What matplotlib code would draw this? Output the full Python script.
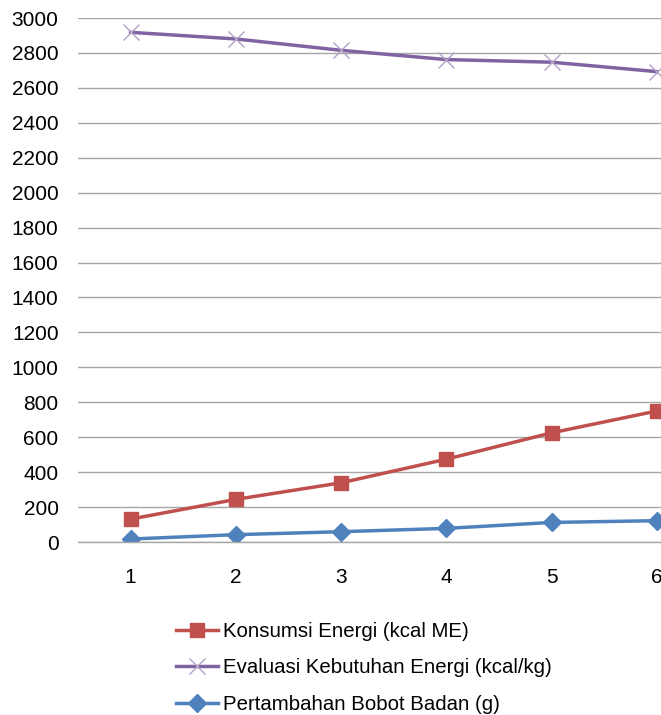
import matplotlib
matplotlib.use("Agg")
import matplotlib.pyplot as plt

categories = [1, 2, 3, 4, 5, 6]
konsumsi = [131, 244, 339, 474, 625, 750]
evaluasi = [2918, 2880, 2815, 2762, 2747, 2693]
pertambahan = [17, 42, 59, 78, 112, 122]
yticks = list(range(0, 3001, 200))

plt.rcParams['font.family'] = ['Liberation Sans', 'DejaVu Sans']

fig = plt.figure(figsize=(6.61, 7.15), dpi=100)
ax = fig.add_axes([78/661, 173/715, 1 - 78/661, (542-18)/715])

l1, = ax.plot(categories, konsumsi, color='#C0504D', lw=2.5, marker='s',
              markersize=10, markerfacecolor='#C0504D', markeredgecolor='#C0504D',
              label='Konsumsi Energi (kcal ME)')
l2, = ax.plot(categories, evaluasi, color='#8064A2', lw=2.5, marker='x',
              markersize=12, markeredgecolor='#B3A2C7', markeredgewidth=1.0,
              label='Evaluasi Kebutuhan Energi (kcal/kg)')
l3, = ax.plot(categories, pertambahan, color='#4F81BD', lw=2.5, marker='D',
              markersize=9, markerfacecolor='#4F81BD', markeredgecolor='#4F81BD',
              label='Pertambahan Bobot Badan (g)')

ax.set_xlim(0.5, 6.04)
ax.set_ylim(0, 3000)
ax.set_yticks(yticks)
ax.set_xticks(categories)
ax.set_xticklabels([str(c) for c in categories])
ax.grid(axis='y', color='#A6A6A6', lw=1.0)
ax.set_axisbelow(True)
for s in ax.spines.values():
    s.set_visible(False)
ax.spines['bottom'].set_visible(True)
ax.spines['bottom'].set_color('#A6A6A6')
ax.spines['bottom'].set_linewidth(1.0)
ax.tick_params(axis='both', length=0, labelsize=15, colors='black')
ax.tick_params(axis='y', pad=14)
ax.tick_params(axis='x', pad=19)

fig.legend(handles=[l1, l2, l3], loc='upper left',
           bbox_to_anchor=(176/661, 1 - 622/715), frameon=False,
           fontsize=14.7, handlelength=2.05, handletextpad=0.25,
           labelspacing=0.85, borderaxespad=0, borderpad=0)

fig.savefig('out.png', dpi=100)
